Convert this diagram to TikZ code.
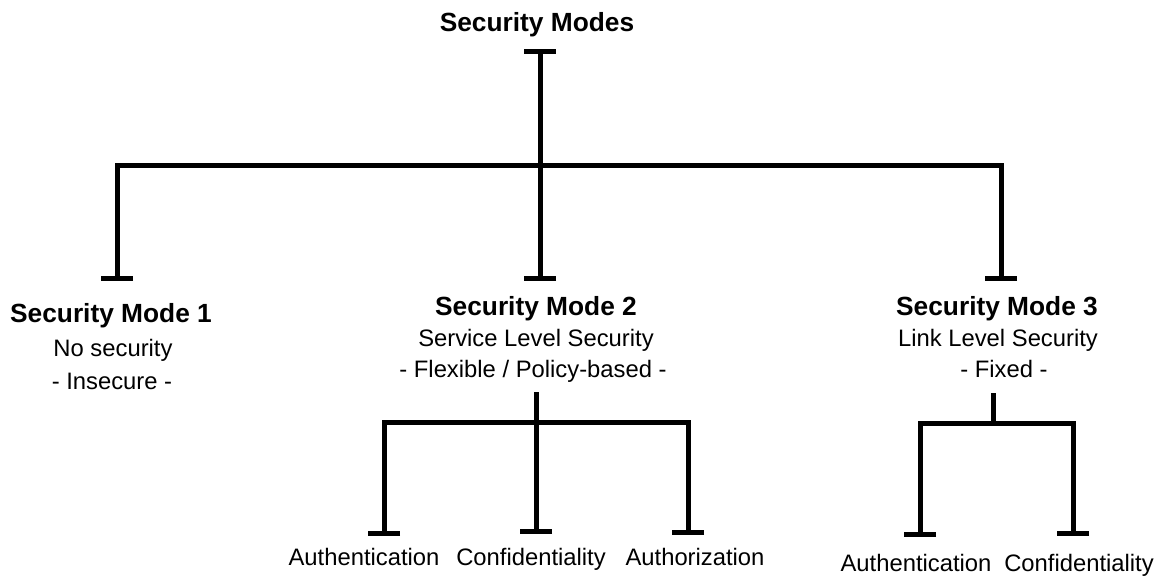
\documentclass[tikz,border=0pt]{standalone}
\usepackage{fontspec}
\setmainfont{Liberation Sans}
\usetikzlibrary{arrows.meta}
\tikzset{
  head/.style={font=\fontsize{26.3}{30}\selectfont\bfseries, inner sep=0pt, anchor=base},
  plain/.style={font=\fontsize{23.8}{28}\selectfont, inner sep=0pt, anchor=base},
  link/.style={line width=5pt, line join=miter, line cap=butt},
  teeend/.style={link, -{Bar[width=32pt]}},
  teestart/.style={link, {Bar[width=32pt]}-},
}
\begin{document}
\begin{tikzpicture}[x=1pt,y=-1pt]
\useasboundingbox (0,0) rectangle (1158,575);
% texts
\node[head] (root) at (537,32) {Security Modes};
\node[head] (m1) at (111,322) {Security Mode 1};
\node[plain] (m1a) at (113,356) {No security};
\node[plain] (m1b) at (112,389) {- Insecure -};
\node[head] (m2) at (536,315) {Security Mode 2};
\node[plain] (m2a) at (536,346) {Service Level Security};
\node[plain] (m2b) at (533,377) {- Flexible / Policy-based -};
\node[head] (m3) at (997,315) {Security Mode 3};
\node[plain] (m3a) at (998,346) {Link Level Security};
\node[plain] (m3b) at (1004,377) {- Fixed -};
\node[plain] (a2) at (364,565) {Authentication};
\node[plain] (c2) at (531,565) {Confidentiality};
\node[plain] (z2) at (695,565) {Authorization};
\node[plain] (a3) at (916,571) {Authentication};
\node[plain] (c3) at (1079,571) {Confidentiality};
% connector points
\coordinate (rootbar) at (540,49);
\coordinate (j0) at (540,165);
\coordinate (m1bar) at (117,281);
\coordinate (m2bar) at (540,281);
\coordinate (m3bar) at (1001,281);
\coordinate (s2top) at (536,392);
\coordinate (j2) at (536,422);
\coordinate (a2bar) at (384,536);
\coordinate (c2bar) at (536,534);
\coordinate (z2bar) at (688,535);
\coordinate (s3top) at (993,393);
\coordinate (j3) at (993,423);
\coordinate (a3bar) at (920,537);
\coordinate (c3bar) at (1073,536);
% main tree
\draw[teestart] (rootbar) -- (j0);
\draw[teeend] (j0) -| (m1bar);
\draw[teeend] (j0) -- (m2bar);
\draw[teeend] (j0) -| (m3bar);
% mode 2 subtree
\draw[link] (s2top) -- (j2);
\draw[teeend] (j2) -| (a2bar);
\draw[teeend] (j2) -- (c2bar);
\draw[teeend] (j2) -| (z2bar);
% mode 3 subtree
\draw[link] (s3top) -- (j3);
\draw[teeend] (j3) -| (a3bar);
\draw[teeend] (j3) -| (c3bar);
\end{tikzpicture}
\end{document}
